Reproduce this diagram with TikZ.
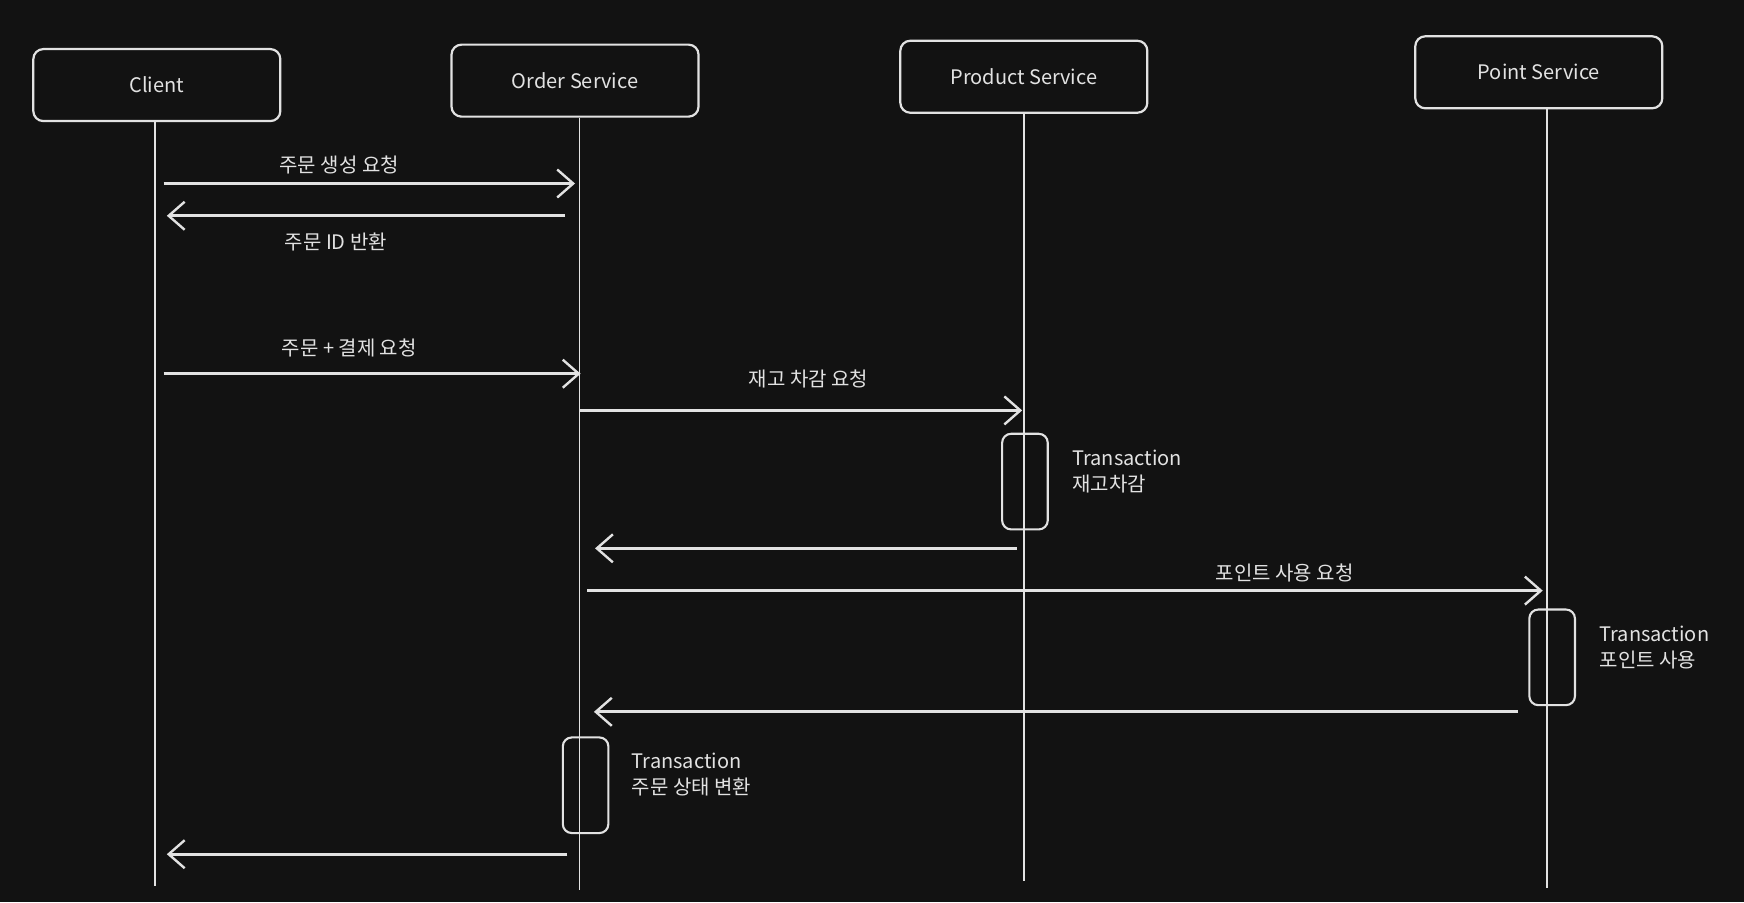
\documentclass[tikz,border=0pt]{standalone}
\usepackage{fontspec}
\newfontfamily\kr{Noto Sans CJK KR}
\usetikzlibrary{arrows.meta}
\definecolor{bg}{HTML}{121212}
\definecolor{ink}{HTML}{E2E2E2}
\tikzset{
  actor/.style={draw=ink, line width=2.2pt, rounded corners=10pt, minimum width=247pt, minimum height=72pt, text=ink, font=\kr\fontsize{20}{24}\selectfont},
  life/.style={draw=ink, line width=1.9pt},
  msg/.style={draw=ink, line width=2.9pt, -{Straight Barb[length=16pt, width=28pt, line width=2.4pt]}},
  lbl/.style={text=ink, font=\kr\fontsize{20}{24}\selectfont, inner sep=0pt},
  note/.style={text=ink, font=\kr\fontsize{20}{26}\selectfont, align=left, anchor=west, inner sep=0pt},
  act/.style={draw=ink, line width=2.1pt, rounded corners=9pt},
}
\begin{document}
\begin{tikzpicture}[x=1.1122pt, y=-1.1122pt]
\fill[bg] (0,0) rectangle (1568,811);
\useasboundingbox (0,0) rectangle (1568,811);

% actors
\node[actor] (client) at (141,76.5) {Client};
\node[actor] (order) at (517,72.5) {Order Service};
\node[actor] (product) at (920.5,69) {Product Service};
\node[actor] (point) at (1383.5,65) {Point Service};

% lifeline ends
\coordinate (clientEnd) at (139,797);
\coordinate (orderEnd) at (521,800);
\coordinate (productEnd) at (921,792);
\coordinate (pointEnd) at (1391,798);
\draw[life] (client.south -| clientEnd) -- (clientEnd);
\draw[life] (order.south -| orderEnd) -- (orderEnd);
\draw[life] (product.south -| productEnd) -- (productEnd);
\draw[life] (point.south -| pointEnd) -- (pointEnd);

% activation boxes
\draw[act] (901,390) rectangle (942,476);
\draw[act] (1375,548) rectangle (1416,634);
\draw[act] (506,663) rectangle (547,749);

% message end points
\coordinate (m1s) at (147,165); \coordinate (m1e) at (517,165);
\coordinate (m2s) at (508,194); \coordinate (m2e) at (150,194);
\coordinate (m3s) at (147,336); \coordinate (m3e) at (522,336);
\coordinate (m4s) at (521,369); \coordinate (m4e) at (919,369);
\coordinate (m5s) at (914,493); \coordinate (m5e) at (535,493);
\coordinate (m6s) at (528,531); \coordinate (m6e) at (1387,531);
\coordinate (m7s) at (1365,640); \coordinate (m7e) at (534,640);
\coordinate (m8s) at (510,768); \coordinate (m8e) at (150,768);

\draw[msg] (m1s) -- (m1e);
\draw[msg] (m2s) -- (m2e);
\draw[msg] (m3s) -- (m3e);
\draw[msg] (m4s) -- (m4e);
\draw[msg] (m5s) -- (m5e);
\draw[msg] (m6s) -- (m6e);
\draw[msg] (m7s) -- (m7e);
\draw[msg] (m8s) -- (m8e);

% message labels
\node[lbl] (l1) at (305,148) {주문 생성 요청};
\node[lbl] (l2) at (302,218) {주문 ID 반환};
\node[lbl] (l3) at (314,313) {주문 + 결제 요청};
\node[lbl] (l4) at (727,341) {재고 차감 요청};
\node[lbl] (l6) at (1155,515) {포인트 사용 요청};

% transaction notes
\node[note] (n1) at (964,424) {Transaction\\재고차감};
\node[note] (n2) at (1438,582) {Transaction\\포인트 사용};
\node[note] (n3) at (568,696) {Transaction\\주문 상태 변환};
\end{tikzpicture}
\end{document}
